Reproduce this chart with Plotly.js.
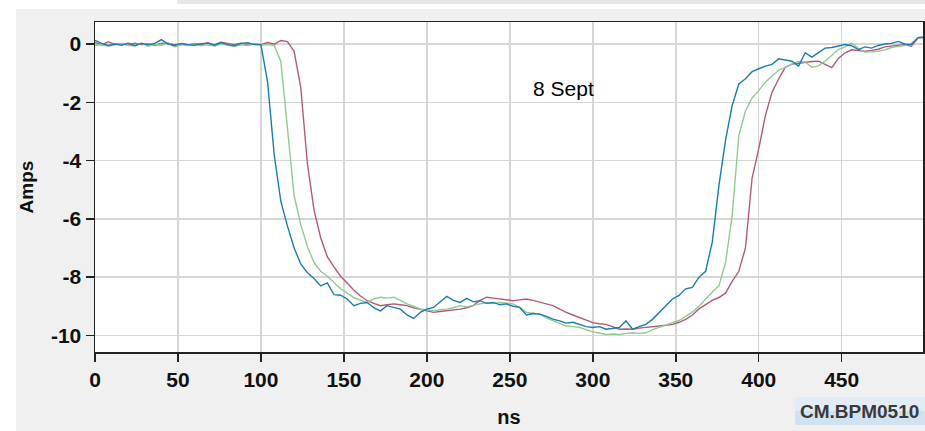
<!DOCTYPE html>
<html>
<head>
<meta charset="utf-8">
<script src="https://cdn.plot.ly/plotly-3.0.1.min.js"></script>
<style>html,body{margin:0;padding:0;background:#fff;}#chart{width:925px;height:431px;}</style>
</head>
<body>
<div id="chart"></div>
<script>
// time axis (ns)
const timeNs = [0,4,8,12,16,20,24,28,32,36,40,44,48,52,56,60,64,68,72,76,80,84,88,92,96,
  100,104,108,112,116,120,124,128,132,136,140,144,148,152,156,160,164,168,172,176,180,184,188,192,196,
  200,204,208,212,216,220,224,228,232,236,240,244,248,252,256,260,264,268,272,276,280,284,288,292,296,
  300,304,308,312,316,320,324,328,332,336,340,344,348,352,356,360,364,368,372,376,380,384,388,392,396,
  400,404,408,412,416,420,424,428,432,436,440,444,448,452,456,460,464,468,472,476,480,484,488,492,496,500];

// blue trace (Amps)
const blueAmps = [0.12,0.02,-0.05,0.0,-0.04,0.03,-0.06,0.02,-0.03,0.02,0.15,0.0,-0.05,0.02,-0.02,-0.04,0.01,0.03,-0.04,0.05,-0.02,-0.06,0.02,0.04,-0.02,
  -0.02,-1.3,-3.8,-5.4,-6.25,-7.0,-7.55,-7.85,-8.05,-8.3,-8.2,-8.6,-8.62,-8.75,-8.98,-8.9,-8.87,-9.05,-9.16,-8.98,-9.05,-9.1,-9.3,-9.42,-9.21,
  -9.1,-9.04,-8.85,-8.66,-8.8,-8.87,-8.73,-8.85,-8.81,-8.9,-8.87,-8.95,-8.92,-9.0,-9.04,-9.3,-9.25,-9.27,-9.35,-9.44,-9.5,-9.58,-9.55,-9.62,-9.7,
  -9.73,-9.7,-9.79,-9.75,-9.73,-9.5,-9.79,-9.7,-9.62,-9.45,-9.21,-9.0,-8.75,-8.63,-8.4,-8.35,-8.0,-7.8,-6.8,-4.86,-3.3,-2.11,-1.37,-1.19,-0.95,
  -0.85,-0.76,-0.7,-0.51,-0.55,-0.59,-0.76,-0.3,-0.45,-0.3,-0.14,-0.12,-0.08,-0.02,-0.06,-0.19,-0.1,-0.14,-0.05,0.0,0.02,0.09,0.0,-0.02,0.22,0.25];

// green trace (Amps)
const greenAmps = [-0.05,-0.02,-0.08,-0.03,0.02,-0.05,-0.06,0.03,-0.08,-0.02,-0.05,0.04,-0.1,-0.03,-0.05,0.0,-0.06,-0.03,-0.07,0.0,-0.04,-0.08,-0.03,-0.05,0.0,
  -0.04,-0.02,-0.05,-0.6,-2.85,-5.2,-6.2,-6.95,-7.5,-7.8,-7.97,-8.17,-8.4,-8.55,-8.7,-8.8,-8.87,-8.75,-8.69,-8.72,-8.69,-8.8,-8.92,-9.0,-9.1,
  -9.12,-9.16,-9.12,-9.1,-9.05,-8.98,-9.02,-8.98,-8.92,-8.87,-8.9,-8.87,-8.9,-8.92,-9.05,-9.21,-9.24,-9.27,-9.4,-9.5,-9.6,-9.68,-9.7,-9.73,-9.8,
  -9.88,-9.92,-9.97,-9.95,-9.97,-9.93,-9.91,-9.93,-9.91,-9.8,-9.73,-9.65,-9.56,-9.49,-9.35,-9.2,-9.0,-8.75,-8.51,-8.3,-7.5,-5.89,-3.14,-2.3,-1.85,
  -1.6,-1.31,-1.1,-0.9,-0.8,-0.68,-0.6,-0.62,-0.8,-0.75,-0.59,-0.4,-0.19,-0.1,0.03,-0.15,-0.28,-0.27,-0.25,-0.2,-0.12,-0.08,-0.05,0.02,0.2,0.22];

// red trace (Amps)
const redAmps = [0.05,-0.03,0.08,-0.02,0.02,-0.04,0.03,-0.02,0.0,-0.05,0.02,0.03,-0.03,0.01,-0.04,0.02,-0.02,0.04,-0.03,0.06,0.02,-0.02,0.03,-0.03,0.01,
  -0.02,0.05,-0.01,0.12,0.08,-0.25,-1.5,-4.1,-5.7,-6.65,-7.3,-7.65,-7.97,-8.2,-8.45,-8.65,-8.81,-8.9,-8.98,-8.95,-8.92,-8.95,-8.98,-9.05,-9.1,
  -9.15,-9.21,-9.18,-9.16,-9.12,-9.1,-9.05,-8.98,-8.8,-8.69,-8.72,-8.75,-8.78,-8.81,-8.78,-8.75,-8.8,-8.87,-8.92,-8.98,-9.1,-9.21,-9.3,-9.39,-9.48,
  -9.56,-9.6,-9.62,-9.7,-9.79,-9.78,-9.79,-9.75,-9.73,-9.7,-9.68,-9.65,-9.62,-9.55,-9.45,-9.3,-9.09,-8.95,-8.8,-8.7,-8.55,-8.15,-7.8,-7.0,-4.6,
  -3.6,-2.46,-1.66,-1.2,-0.8,-0.69,-0.66,-0.62,-0.6,-0.59,-0.7,-0.81,-0.5,-0.3,-0.2,-0.22,-0.25,-0.22,-0.18,-0.1,-0.08,-0.05,-0.02,-0.08,0.2,0.22];

const xTicks = [0,50,100,150,200,250,300,350,400,450];
const xTickLabels = ['0','50','100','150','200','250','300','350','400','450'];
const yTicks = [0,-2,-4,-6,-8,-10];
const yTickLabels = ['0','-2','-4','-6','-8','-10'];

const FONT = 'Liberation Sans, Arial, sans-serif';
const bold = arr => arr.map(s => '<b>' + s + '</b>');

const traces = [
  {x: timeNs, y: redAmps, type: 'scatter', mode: 'lines', line: {color: '#b35a7c', width: 1.4}, hoverinfo: 'skip'},
  {x: timeNs, y: greenAmps, type: 'scatter', mode: 'lines', line: {color: '#8fcb8f', width: 1.4}, hoverinfo: 'skip'},
  {x: timeNs, y: blueAmps, type: 'scatter', mode: 'lines', line: {color: '#1b7cb0', width: 1.4}, hoverinfo: 'skip'}
];

const axisCommon = {
  showgrid: true, gridcolor: '#d6d6d6', gridwidth: 1.5,
  showline: true, linecolor: '#222', linewidth: 1.5, mirror: true,
  ticks: 'outside', ticklen: 8, tickwidth: 1.5, tickcolor: '#222',
  tickfont: {family: FONT, size: 21, color: '#111'},
  zeroline: false, fixedrange: true
};

const layout = {
  width: 925, height: 431,
  margin: {l: 95, r: 2, t: 22, b: 79},
  paper_bgcolor: '#f0f0f0',
  plot_bgcolor: '#ffffff',
  showlegend: false,
  xaxis: Object.assign({}, axisCommon, {
    range: [0, 499], tickmode: 'array', tickvals: xTicks, ticktext: bold(xTickLabels),
    title: {text: '<b>ns</b>', font: {family: FONT, size: 20, color: '#111'}, standoff: 20}
  }),
  yaxis: Object.assign({}, axisCommon, {
    range: [-10.57, 0.755], tickmode: 'array', tickvals: yTicks, ticktext: bold(yTickLabels),
    title: {text: '<b>Amps</b>', font: {family: FONT, size: 19, color: '#111'}, standoff: 12}
  }),
  shapes: [
    {type: 'rect', xref: 'paper', yref: 'paper', x0: -0.1147, x1: -0.0954, y0: -0.2394, y1: 1.0667, fillcolor: '#ffffff', line: {width: 0}, layer: 'below'},
    {type: 'rect', xref: 'paper', yref: 'paper', x0: -0.1147, x1: 1.0024, y0: 1.0394, y1: 1.0667, fillcolor: '#ffffff', line: {width: 0}, layer: 'below'},
    {type: 'rect', xref: 'paper', yref: 'paper', x0: 0.099, x1: 1.0024, y0: 1.0545, y1: 1.0667, fillcolor: '#e6e6e6', line: {width: 0}, layer: 'below'},
    {type: 'rect', xref: 'paper', yref: 'paper', x0: 0.8454, x1: 1.0024, y0: -0.2212, y1: -0.1364, fillcolor: '#d3e2f1', line: {width: 0}, layer: 'below'},
    {type: 'rect', xref: 'paper', yref: 'paper', x0: 0.8454, x1: 1.0024, y0: -0.1788, y1: -0.1364, fillcolor: '#e2ecf7', line: {width: 0}, layer: 'below'}
  ],
  annotations: [
    {text: '8 Sept', x: 282.5, y: -1.53, xref: 'x', yref: 'y', showarrow: false,
     font: {family: FONT, size: 21, color: '#000'}, xanchor: 'center', yanchor: 'middle'},
    {text: '<b>CM.BPM0510</b>', x: 0.9239, y: -0.179, xref: 'paper', yref: 'paper', showarrow: false,
     font: {family: FONT, size: 19, color: '#3a3a3a'}, xanchor: 'center', yanchor: 'middle'}
  ]
};

Plotly.newPlot('chart', traces, layout, {displayModeBar: false, staticPlot: true});
</script>
</body>
</html>
